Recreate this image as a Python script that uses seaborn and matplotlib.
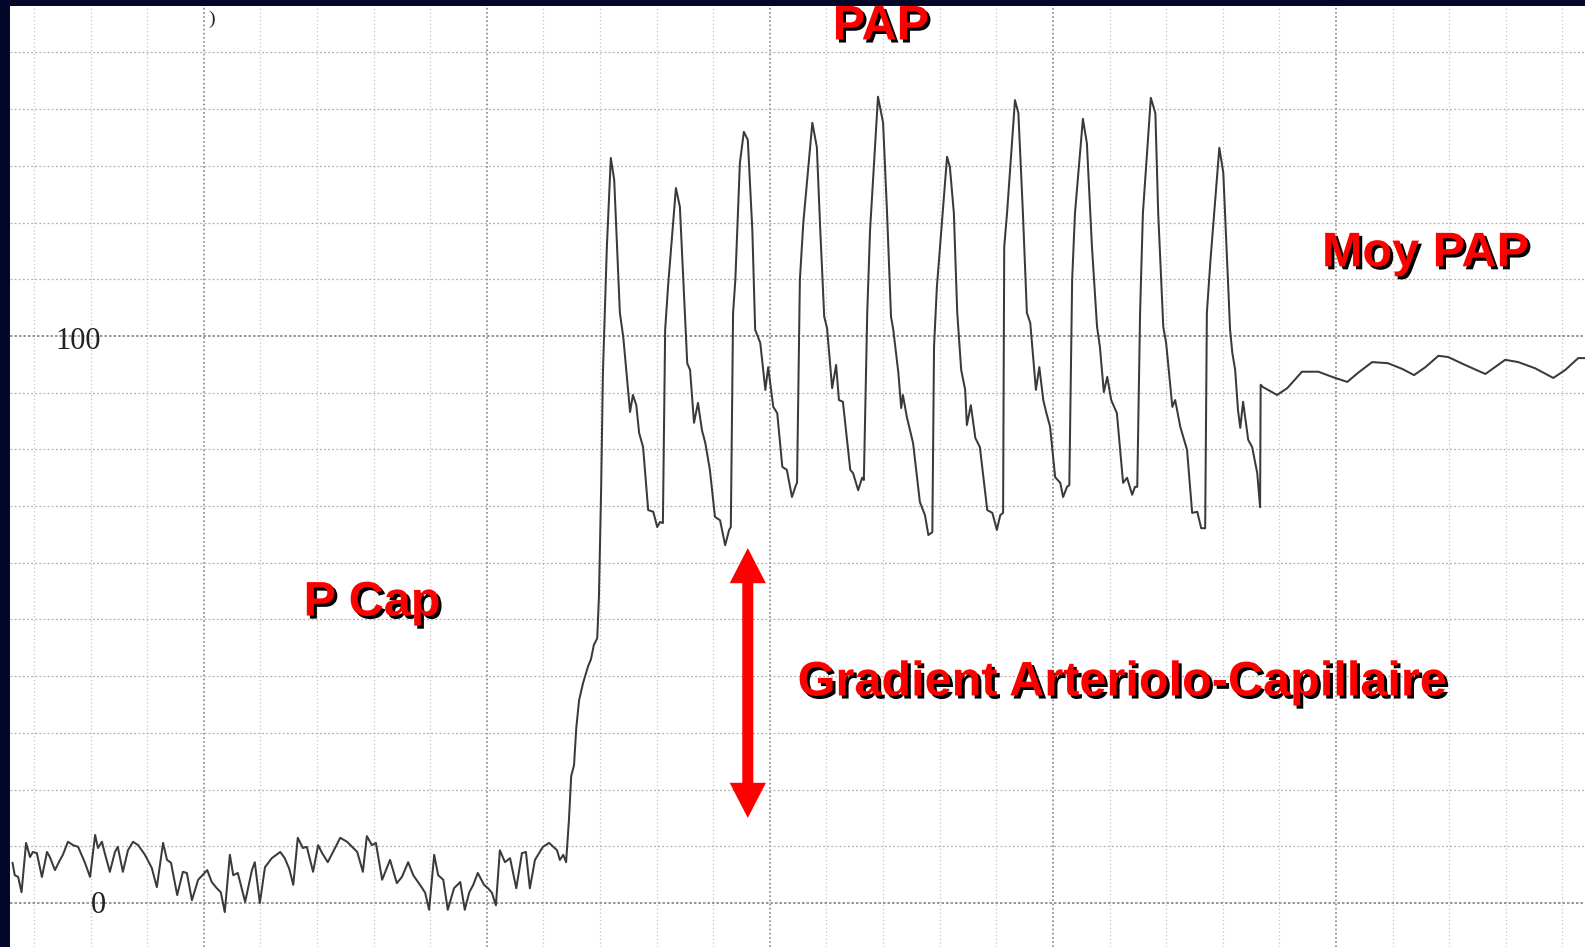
import numpy as np
import pandas as pd
import matplotlib
matplotlib.use("Agg")
import matplotlib.pyplot as plt
import matplotlib.patheffects as pe
import seaborn as sns

# time in paper grid divisions, pressure in mmHg
# P Cap (wedge) section
t_pcap = [-0.38, -0.34, -0.28, -0.22, -0.14, -0.07, -0.02, 0.05, 0.14, 0.23, 0.28, 0.37,
          0.46, 0.51, 0.60, 0.69, 0.78, 0.90, 0.99, 1.08, 1.13, 1.20, 1.25, 1.34, 1.43,
          1.48, 1.57, 1.66, 1.75, 1.84, 1.96, 2.08, 2.17, 2.28, 2.35, 2.42, 2.53, 2.63,
          2.70, 2.79, 2.90, 3.06, 3.14, 3.23, 3.30, 3.37, 3.46, 3.52, 3.60, 3.73, 3.85,
          3.90, 3.99, 4.08, 4.20, 4.35, 4.43, 4.51, 4.58, 4.66, 4.75, 4.82, 4.93, 5.02,
          5.09, 5.19, 5.41, 5.53, 5.71, 5.81, 5.88, 5.97, 6.04, 6.15, 6.29, 6.41, 6.50,
          6.61, 6.70, 6.86, 6.91, 6.98, 7.07, 7.14, 7.23, 7.31, 7.42, 7.53, 7.61, 7.69,
          7.76, 7.84, 7.95, 8.02, 8.09, 8.16, 8.23, 8.32, 8.41, 8.52, 8.62, 8.69, 8.76,
          8.85, 8.99, 9.10, 9.24, 9.29, 9.35, 9.40]
p_pcap = [7.1, 4.9, 4.6, 1.9, 10.6, 8.1, 9.0, 8.8, 4.6, 9.0, 8.1, 5.8,
          7.6, 8.5, 10.8, 10.2, 9.9, 7.1, 4.6, 12.0, 9.7, 10.8, 8.8, 5.5, 9.0,
          9.9, 5.5, 9.3, 10.8, 10.2, 8.5, 6.2, 2.8, 10.6, 7.6, 7.1, 1.4, 5.5,
          5.3, 0.5, 4.1, 5.8, 3.7, 2.6, 1.9, -1.6, 8.5, 4.9, 5.3, 0.2, 5.8,
          7.2, 0.0, 6.3, 7.9, 9.0, 7.9, 6.0, 3.2, 11.5, 9.7, 9.9, 5.5, 10.2,
          8.8, 7.2, 11.5, 10.8, 9.0, 5.5, 11.8, 10.2, 10.6, 4.1, 7.6, 3.5, 4.6,
          7.2, 4.9, 2.6, 1.8, -1.2, 8.5, 4.9, 4.1, -1.2, 2.6, 3.7, -1.2, 1.9,
          3.2, 5.3, 3.2, 2.6, 1.8, -0.4, 9.3, 7.2, 7.9, 2.6, 8.8, 9.0, 2.6,
          7.6, 9.9, 10.6, 9.3, 7.6, 8.5, 7.2]

# balloon deflation: rise to pulmonary artery pressure
t_rise = [9.45, 9.49, 9.54, 9.58, 9.63, 9.70, 9.79, 9.84, 9.89, 9.95, 9.98, 10.02,
          10.05, 10.09, 10.12]
p_rise = [14.6, 22.4, 24.3, 30.9, 35.8, 38.8, 41.8, 43.0, 45.5, 46.7, 54.0, 73.5,
          93.3, 106.4, 115.7]

# PAP pulsatile section
t_pap = [10.19, 10.25, 10.30, 10.35, 10.41, 10.48, 10.53, 10.58, 10.64, 10.69, 10.76, 10.85,
         10.94, 11.01, 11.06, 11.11,
         11.15, 11.20, 11.34, 11.41, 11.47, 11.54, 11.59, 11.66, 11.73, 11.80, 11.86, 11.94,
         12.03, 12.12, 12.21, 12.28, 12.31,
         12.35, 12.39, 12.47, 12.54, 12.61, 12.69, 12.74, 12.83, 12.92, 12.97, 13.06, 13.13,
         13.22, 13.30, 13.39, 13.46, 13.48,
         13.53, 13.59, 13.75, 13.83, 13.89, 13.96, 14.01, 14.10, 14.17, 14.22, 14.29, 14.42,
         14.47, 14.56, 14.63, 14.66,
         14.72, 14.77, 14.91, 15.00, 15.07, 15.14, 15.18, 15.27, 15.32, 15.35, 15.42, 15.53,
         15.65, 15.74, 15.80, 15.87,
         15.90, 15.95, 16.13, 16.18, 16.25, 16.31, 16.38, 16.45, 16.48, 16.55, 16.63, 16.71,
         16.84, 16.93, 17.01, 17.07, 17.12,
         17.14, 17.19, 17.33, 17.39, 17.47, 17.54, 17.60, 17.65, 17.70, 17.76, 17.83, 17.88,
         17.95, 18.04, 18.13, 18.18, 18.25, 18.29,
         18.34, 18.39, 18.53, 18.60, 18.69, 18.78, 18.83, 18.90, 18.96, 19.03, 19.13, 19.24,
         19.31, 19.40, 19.45, 19.49,
         19.54, 19.59, 19.73, 19.81, 19.86, 19.95, 20.00, 20.11, 20.16, 20.25, 20.37, 20.46,
         20.55, 20.62, 20.69,
         20.72, 20.78, 20.94, 21.01, 21.08, 21.13, 21.17, 21.22, 21.27, 21.31, 21.36, 21.45,
         21.52, 21.61, 21.66]
p_pap = [131.4, 127.5, 115.7, 104.1, 99.8, 92.2, 86.6, 89.6, 87.8, 82.9, 80.4, 69.3,
         69.0, 66.3, 67.2, 67.0,
         101.1, 108.6, 126.1, 122.8, 109.9, 95.2, 94.0, 84.7, 88.2, 83.4, 81.1, 76.4,
         68.1, 67.5, 63.1, 65.8, 66.3,
         104.1, 109.9, 130.5, 136.0, 134.6, 118.7, 101.1, 98.8, 90.5, 94.5, 87.5, 86.4,
         76.9, 76.4, 71.6, 73.7, 74.1,
         109.9, 119.9, 137.6, 133.3, 118.7, 103.4, 101.4, 90.8, 94.9, 88.7, 88.4, 76.4,
         75.8, 72.8, 75.0, 74.6,
         104.1, 118.7, 142.2, 137.6, 121.7, 103.4, 101.1, 93.5, 87.3, 89.6, 85.7, 81.1,
         70.7, 68.4, 64.9, 65.4,
         98.1, 108.6, 131.6, 129.8, 121.7, 104.1, 94.0, 90.5, 84.3, 87.8, 82.0, 80.4,
         69.3, 68.8, 65.8, 68.4, 68.8,
         115.7, 121.7, 141.6, 139.3, 121.7, 104.1, 102.3, 96.3, 90.5, 94.5, 88.7, 86.6,
         84.0, 75.1, 74.1, 71.6, 73.4, 73.7,
         109.9, 121.7, 138.3, 134.0, 115.7, 101.6, 98.1, 90.1, 92.8, 88.7, 86.4, 74.1,
         75.0, 72.0, 73.4, 73.4,
         104.1, 121.7, 142.0, 139.3, 121.7, 101.6, 98.8, 87.5, 88.7, 84.0, 79.9, 68.8,
         69.0, 66.1, 66.1,
         104.1, 112.9, 133.2, 128.8, 112.9, 101.1, 97.0, 94.0, 86.9, 83.8, 88.4, 81.7,
         80.4, 75.8, 69.8]

# mean PAP (damped) section
t_moy = [21.67, 21.71, 21.96, 22.14, 22.40, 22.69, 22.93, 23.20, 23.39, 23.64, 23.92, 24.17,
         24.38, 24.58, 24.81, 24.98, 25.28, 25.64, 25.99, 26.22, 26.52, 26.84, 27.05, 27.28,
         27.49]
p_moy = [91.4, 91.0, 89.6, 90.8, 93.7, 93.7, 92.8, 91.9, 93.5, 95.4, 95.2, 94.2,
         93.1, 94.5, 96.5, 96.3, 94.9, 93.3, 95.8, 95.4, 94.3, 92.6, 94.0, 96.1,
         96.1]

# gradient arrow ends (mmHg) at t
grad_t = 12.61
grad_top = 62.6
grad_bottom = 15.0

trace = pd.DataFrame({
    "t": t_pcap + t_rise + t_pap + t_moy,
    "p": p_pcap + p_rise + p_pap + p_moy,
})

NAVY = "#03082a"
RED = "#ff0000"

sns.set_style("white")
plt.rcParams["font.family"] = ["Liberation Sans", "DejaVu Sans"]

fig = plt.figure(figsize=(15.85, 9.47), dpi=100, facecolor=NAVY)
ax = fig.add_axes([10 / 1585, 0, 1575 / 1585, 941 / 947])
ax.set_facecolor("white")

sns.lineplot(data=trace, x="t", y="p", ax=ax, sort=False, estimator=None,
             color="#3a3a3a", linewidth=1.45, zorder=3, solid_joinstyle="round")

ax.set_xlim(-0.424, 27.40)
ax.set_ylim(-7.76, 158.2)

# paper grid
ax.set_xticks([3, 8, 13, 18, 23])
ax.set_xticks(np.arange(0, 28), minor=True)
ax.set_yticks([0, 100])
ax.set_yticks(np.arange(0, 160, 10), minor=True)
ax.grid(which="minor", axis="x", color="#c4c4c4", lw=0.9, ls=(0, (1, 2)))
ax.grid(which="major", axis="x", color="#858585", lw=1.2, ls=(0, (1, 1.5)))
ax.grid(which="minor", axis="y", color="#b0b0b0", lw=0.9, ls=(0, (1.5, 1.8)))
ax.grid(which="major", axis="y", color="#858585", lw=1.2, ls=(0, (1.5, 1.2)))
ax.tick_params(which="both", length=0, labelbottom=False, labelleft=False)
ax.set_xlabel("")
ax.set_ylabel("")
for s in ax.spines.values():
    s.set_visible(False)

# printed scale on the paper
ax.text(0.78, 99.1, "100", family="Liberation Serif", fontsize=22, color="#222222",
        ha="center", va="center", zorder=4)
ax.text(1.13, -0.5, "0", family="Liberation Serif", fontsize=22, color="#222222",
        ha="center", va="center", zorder=4)
ax.text(3.14, 155.8, ")", family="Liberation Serif", fontsize=14, color="#222222",
        ha="center", va="center")

shadow = [pe.SimplePatchShadow(offset=(2.2, -2.2), shadow_rgbFace="black", alpha=1.0),
          pe.Normal()]
labels = [("PAP", 14.96, 154.5), ("Moy PAP", 24.58, 114.5),
          ("P Cap", 5.97, 52.9), ("Gradient Arteriolo-Capillaire", 19.22, 38.8)]
for txt, x, y in labels:
    ax.text(x, y, txt, fontsize=35, fontweight="bold", color=RED, ha="center",
            va="center", path_effects=shadow, zorder=5)

# double headed arrow for the gradient
mid = (grad_top + grad_bottom) / 2
for end in (grad_top, grad_bottom):
    ax.arrow(grad_t, mid, 0, end - mid, width=0.195, head_width=0.64,
             head_length=6.2, length_includes_head=True, color=RED, lw=0, zorder=5)

fig.savefig("out.png", dpi=100, facecolor=NAVY)
